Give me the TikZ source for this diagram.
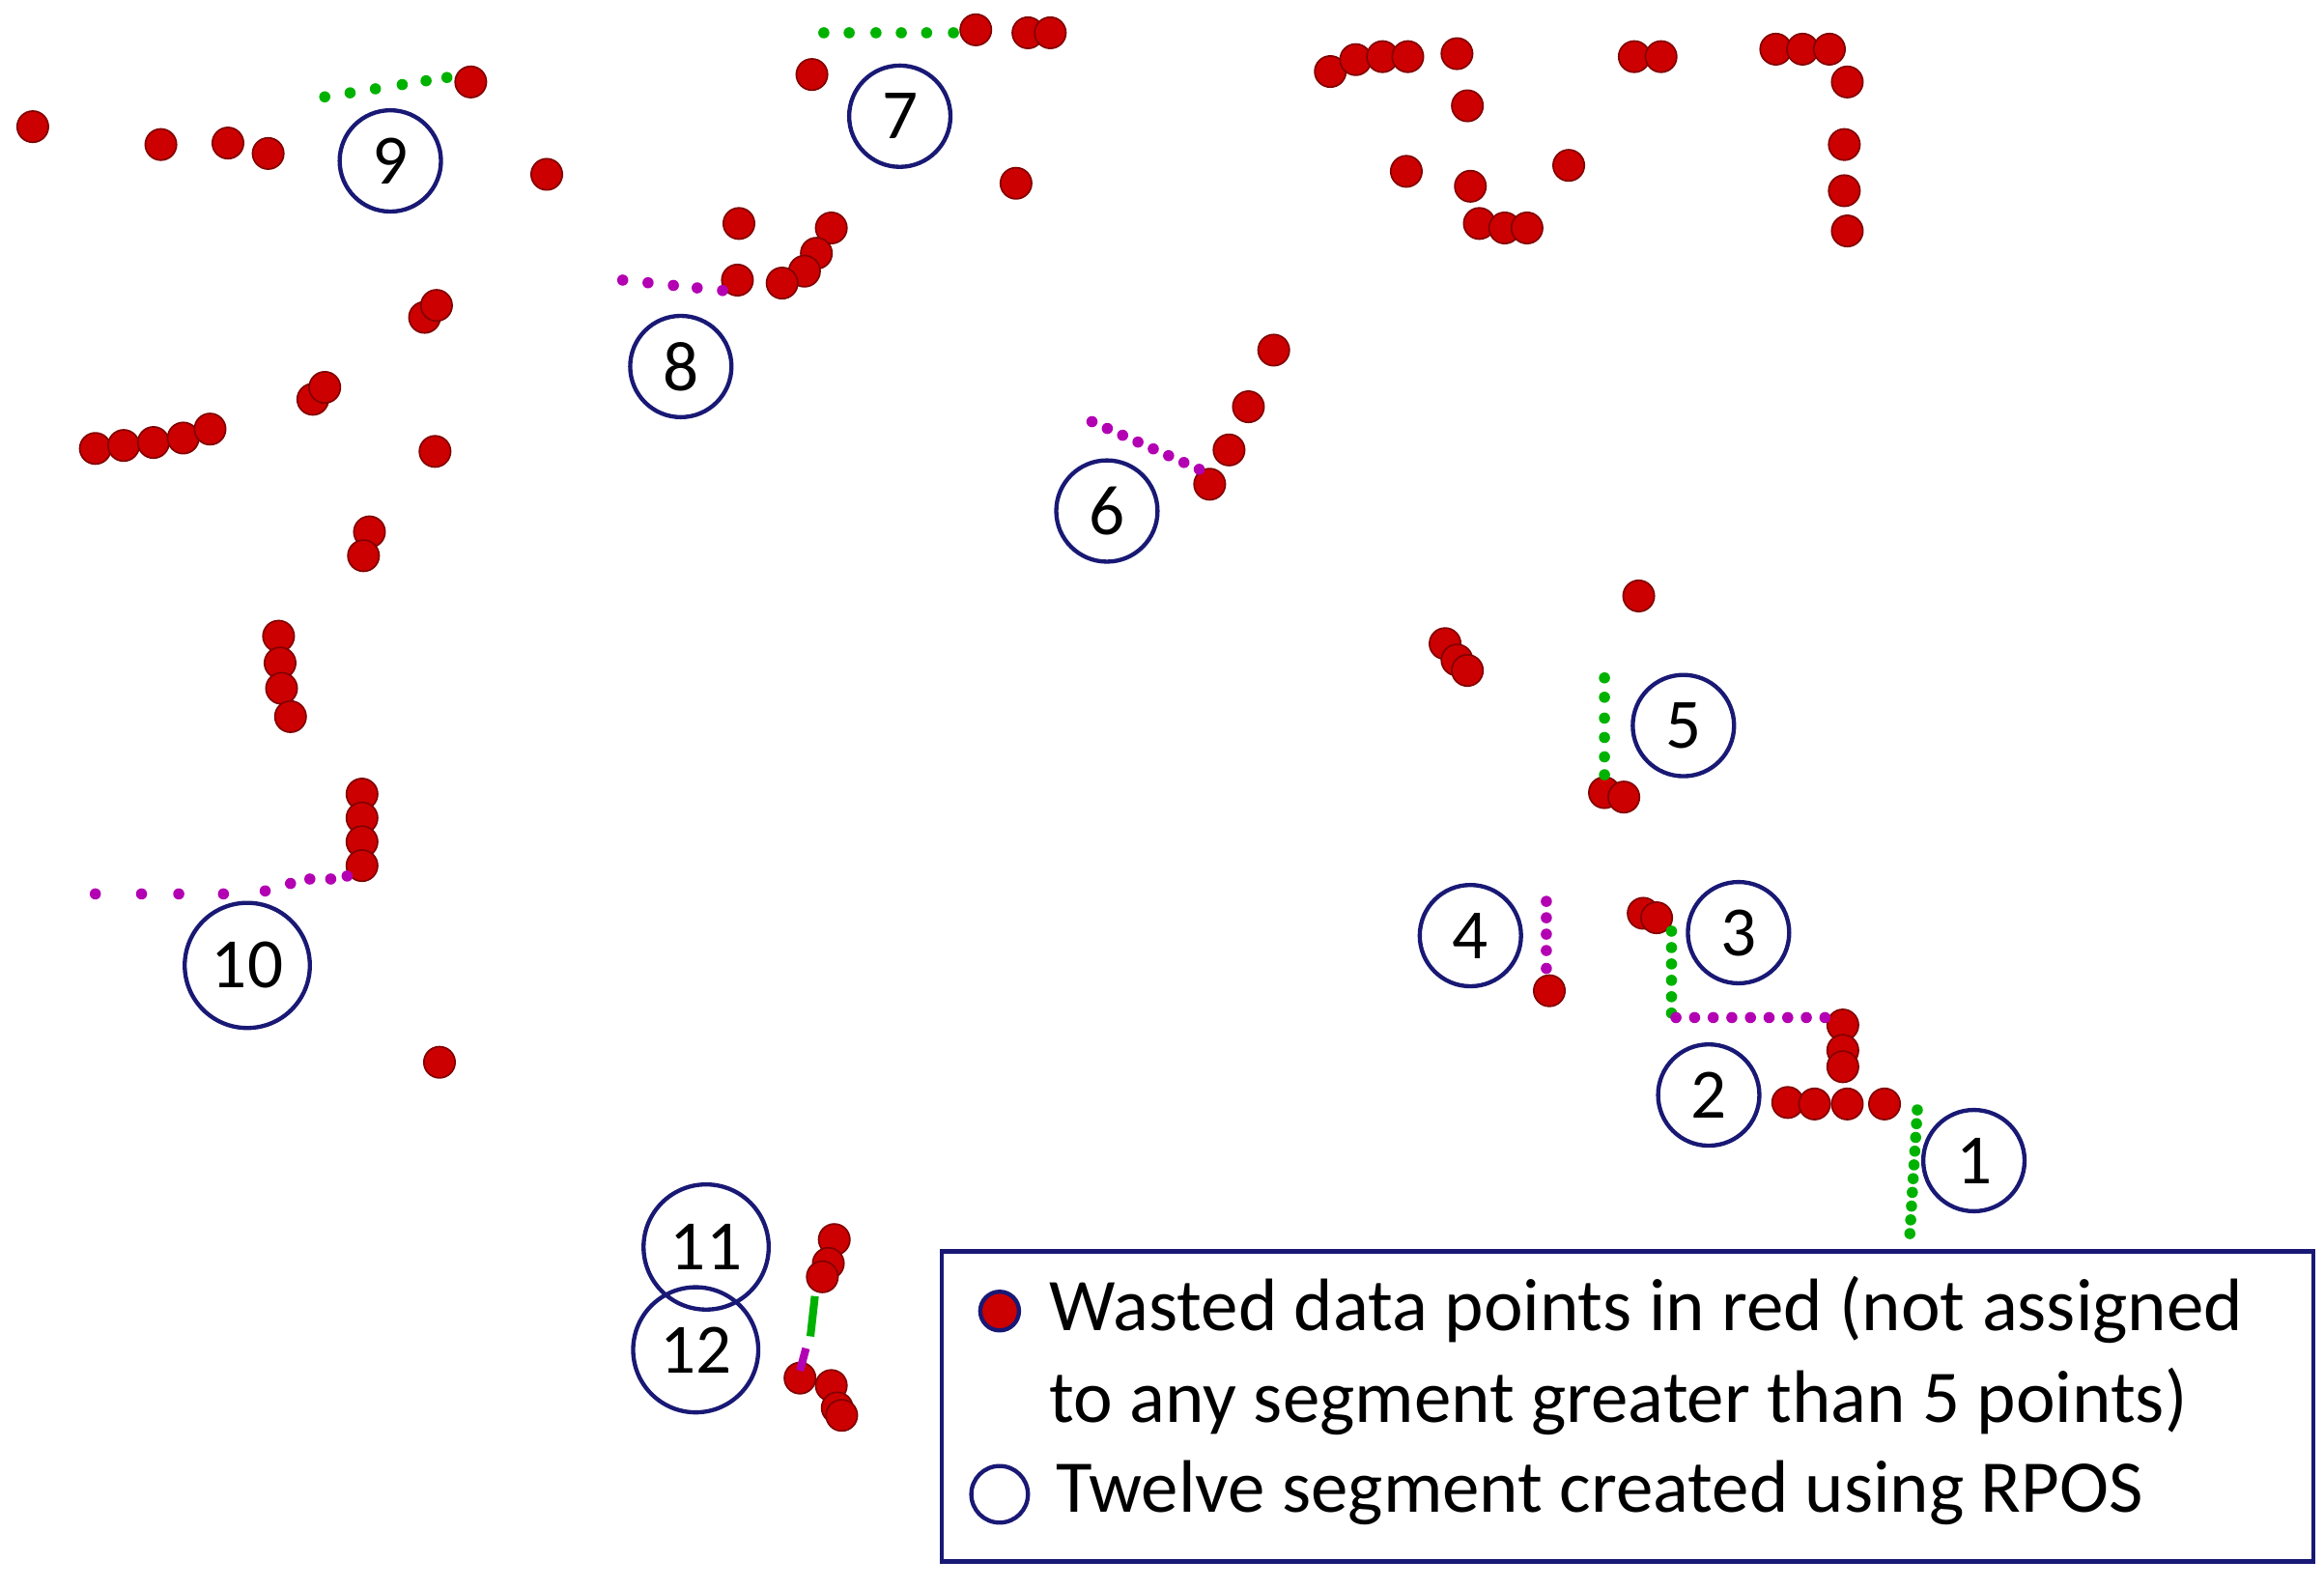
\documentclass[tikz,border=0pt]{standalone}
\usepackage{fontspec}
\setmainfont{Carlito}
\begin{document}
\begin{tikzpicture}[x=0.1mm,y=-0.1mm,
  rd/.style={circle,inner sep=0pt,minimum size=2.1mm,fill=red!80!black,draw=red!50!black,line width=0.3pt},
  gd/.style={circle,inner sep=0pt,minimum size=0.75mm,fill=green!70!black},
  pd/.style={circle,inner sep=0pt,minimum size=0.75mm,fill=violet!60!magenta},
  lab/.style={circle,draw=blue!40!black!90,line width=0.8pt,inner sep=0pt,font=\fontsize{13.5}{14}\selectfont},
  lab1/.style={lab,minimum size=6.8mm},
  lab2/.style={lab,minimum size=8.4mm}]
\useasboundingbox (0,0) rectangle (1560,1066);
\foreach \p [count=\i] in {(22,85),(108,97),(153,96),(180,103),(316,55),(367,117),(285,213),(293,205),(210,268),(218,260),(64,301),(83,299),(103,297),(123,294),(141,288),(292,303),(248,357),(244,373),(187,427),(188,445),(189,462),(195,481),(243,533),(243,549),(243,565),(243,581),(295,713),
(545,50),(655,20),(690,22),(705,22),(682,123),(496,150),(558,153),(548,170),(540,182),(525,190),(495,188),
(812,325),(825,302),(838,273),(855,235),
(893,48),(910,40),(928,38),(945,38),(978,36),(985,71),(944,115),(987,125),(993,150),(1010,153),(1025,153),(1053,111),(1097,38),(1115,38),(1192,33),(1210,33),(1228,33),(1240,55),(1238,97),(1238,128),(1240,155),
(1100,400),(970,432),(978,443),(985,450),(1077,532),(1090,535),(1040,665),(1103,613),(1112,616),(1237,688),(1237,705),(1237,716),
(1200,740),(1218,741),(1240,741),(1265,741),
(560,832),(556,848),(552,857),(537,925),(558,930),(562,945),(565,950)}
  \node[rd] (r\i) at \p {};
% green segments
\foreach \x [count=\i] in {218,235,252,270,286,300} \node[gd] (g9\i) at (\x,{65-13*(\x-218)/82}) {};
\foreach \x [count=\i] in {553,570,588,605,622,640} \node[gd] (g7\i) at (\x,22) {};
\foreach \y [count=\i] in {455,468,482,495,508,520} \node[gd] (g5\i) at (1077,\y) {};
\foreach \y [count=\i] in {625,636,647,658,669,680} \node[gd] (g3\i) at (1122,\y) {};
\foreach \i in {0,...,9} \node[gd] (g1\i) at ({1287-5*\i/9},{745+83*\i/9}) {};
\draw[green!70!black,line width=1.5pt] (547,870) -- (544,897);
% purple segments
\foreach \p [count=\i] in {(64,600),(95,600),(120,600),(150,600),(178,598),(195,593),(208,590),(222,590),(233,588)} \node[pd] (p10\i) at \p {};
\foreach \x [count=\i] in {418,435,452,468,485} \node[pd] (p8\i) at (\x,{188+7*(\x-418)/67}) {};
\foreach \i in {0,...,7} \node[pd] (p6\i) at ({733+72*\i/7},{283+32*\i/7}) {};
\foreach \y [count=\i] in {605,616,627,638,650} \node[pd] (p4\i) at (1038,\y) {};
\foreach \i in {0,...,8} \node[pd] (p3\i) at ({1125+100*\i/8},683) {};
\draw[violet!60!magenta,line width=1.5pt] (541,905) -- (537,920);
% labels
\node[lab1] (c9) at (262,108) {9};
\node[lab1] (c7) at (604,78) {7};
\node[lab1] (c8) at (457,246) {8};
\node[lab1] (c6) at (743,343) {6};
\node[lab1] (c5) at (1130,487) {5};
\node[lab1] (c4) at (987,628) {4};
\node[lab1] (c3) at (1167,626) {3};
\node[lab1] (c2) at (1147,735) {2};
\node[lab1] (c1) at (1325,779) {1};
\node[lab2] (c10) at (166,648) {10};
\node[lab2] (c11) at (474,837) {11};
\node[lab2] (c12) at (467,906) {12};
% legend
\node[draw=blue!40!black!90,line width=0.8pt,fill=white,minimum width=92.1mm,minimum height=20.8mm,inner sep=0pt] (leg) at (1092.5,944) {};
\node[rd,minimum size=2.6mm,draw=blue!40!black!90,line width=0.8pt] (lr) at (671,880) {};
\node[lab,minimum size=3.8mm] (lc) at (671,1003) {};
\node[anchor=west,align=left,font=\fontsize{14.2}{17.5}\selectfont,inner sep=0pt] (lt1) at (704,910) {Wasted data points in red (not assigned\\to any segment greater than 5 points)};
\node[anchor=west,font=\fontsize{14.2}{16}\selectfont,inner sep=0pt] (lt2) at (708,1002) {Twelve segment created using RPOS};
\end{tikzpicture}
\end{document}
